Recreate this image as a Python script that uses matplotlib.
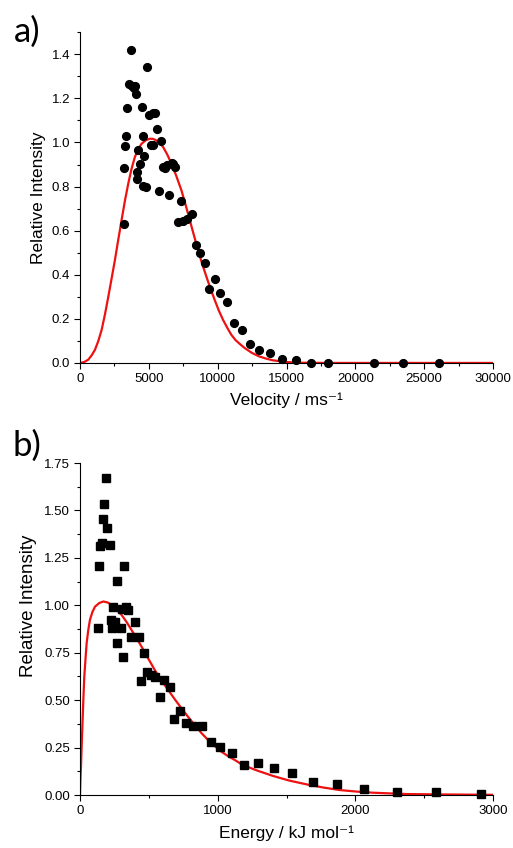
import matplotlib
matplotlib.use('Agg')
import matplotlib.pyplot as plt
from matplotlib.ticker import MultipleLocator

plt.rcParams['font.family'] = ['Liberation Sans', 'DejaVu Sans']

# a) velocity distribution, measured points
vel = [3194, 3194, 3267, 3340, 3436, 3582, 3727, 3800, 3920, 3993, 4041, 4114,
       4162, 4235, 4356, 4477, 4550, 4598, 4671, 4792, 4888, 4985, 5130, 5276,
       5324, 5445, 5566, 5711, 5881, 6002, 6195, 6292, 6486, 6655, 6776, 6897,
       7091, 7308, 7502, 7792, 8107, 8397, 8712, 9051, 9390, 9801, 10164, 10696,
       11205, 11737, 12342, 13031, 13807, 14703, 15672, 16786, 18044, 21365,
       23497, 26110]
vel_int = [0.63, 0.883, 0.983, 1.03, 1.158, 1.263, 1.42, 1.258, 1.245, 1.257, 1.218, 0.864,
           0.834, 0.965, 0.902, 1.16, 0.804, 1.03, 0.94, 0.796, 1.341, 1.123, 0.989, 0.988,
           1.135, 1.135, 1.063, 0.781, 1.007, 0.887, 0.882, 0.899, 0.762, 0.909, 0.902, 0.887,
           0.638, 0.736, 0.646, 0.653, 0.676, 0.536, 0.498, 0.453, 0.337, 0.382, 0.318, 0.277,
           0.179, 0.149, 0.088, 0.059, 0.047, 0.018, 0.014, 0.0, 0.0, 0.0,
           0.0, 0.0]

# a) fitted curve
vel_fit = [0, 300, 604, 850, 1087, 1330, 1570, 1810, 2053, 2300, 2536, 2780, 3019, 3260,
           3502, 3740, 3985, 4230, 4468, 4770, 5072, 5310, 5555, 5800, 6038, 6340, 6641,
           7000, 7366, 7670, 7970, 8270, 8573, 8870, 9177, 9480, 9781, 10080, 10385,
           10690, 10988, 11290, 11592, 11954, 12500, 13000, 13500, 14000, 15000, 16000,
           18000, 30000]
vel_fit_int = [0, 0.004, 0.015, 0.035, 0.06, 0.10, 0.15, 0.22, 0.30, 0.385, 0.467, 0.56, 0.648,
               0.735, 0.813, 0.88, 0.934, 0.97, 0.994, 1.01, 1.017, 1.016, 1.009, 0.997, 0.979,
               0.945, 0.904, 0.847, 0.783, 0.717, 0.648, 0.58, 0.512, 0.45, 0.392, 0.337, 0.286,
               0.238, 0.196, 0.16, 0.128, 0.104, 0.087, 0.068, 0.045, 0.03, 0.02, 0.012, 0.004,
               0.001, 0, 0]

# b) energy distribution, measured points
eng = [133, 138, 146, 158, 165, 175, 187, 199, 218, 228, 235, 243, 255, 267, 272, 299,
       303, 311, 323, 335, 352, 371, 400, 425, 444, 466, 485, 515, 546, 578, 607, 650,
       684, 728, 772, 820, 886, 951, 1019, 1104, 1194, 1295, 1409, 1542, 1690, 1864,
       2065, 2305, 2583, 2912]
eng_int = [0.878, 1.206, 1.311, 1.329, 1.453, 1.536, 1.671, 1.409, 1.318, 0.925, 0.878, 0.992,
           0.913, 0.799, 1.128, 0.881, 0.983, 0.728, 1.206, 0.992, 0.974, 0.834, 0.913, 0.834,
           0.602, 0.751, 0.649, 0.632, 0.623, 0.514, 0.605, 0.570, 0.398, 0.444, 0.381, 0.363,
           0.363, 0.281, 0.254, 0.223, 0.16, 0.170, 0.141, 0.114, 0.070, 0.058, 0.032, 0.018,
           0.014, 0.005]

# b) fitted curve
eng_fit = [0, 3, 7, 12, 17, 24, 31, 40, 48, 60, 72, 90, 109, 140, 169, 200, 229, 265, 302,
           338, 374, 410, 447, 495, 543, 590, 640, 690, 737, 785, 833, 880, 930, 980, 1026,
           1075, 1123, 1183, 1290, 1404, 1520, 1646, 1770, 1888, 2010, 2130, 2372, 2614, 3000]
eng_fit_int = [0, 0.08, 0.15, 0.26, 0.36, 0.50, 0.624, 0.72, 0.80, 0.87, 0.923, 0.965, 0.993,
               1.012, 1.02, 1.015, 1.002, 0.978, 0.949, 0.912, 0.870, 0.827, 0.782, 0.72, 0.659,
               0.605, 0.554, 0.503, 0.457, 0.412, 0.369, 0.328, 0.290, 0.257, 0.229, 0.205,
               0.185, 0.158, 0.128, 0.10, 0.076, 0.056, 0.039, 0.026, 0.018, 0.012, 0.005,
               0.003, 0.001]

fig = plt.figure(figsize=(5.13, 8.48), dpi=100)
ax1 = fig.add_axes([0.156, 0.572, 0.805, 0.390])
ax2 = fig.add_axes([0.156, 0.0625, 0.805, 0.3915])

for ax in (ax1, ax2):
    ax.spines['top'].set_visible(False)
    ax.spines['right'].set_visible(False)
    ax.tick_params(which='major', direction='out', length=4.5, width=0.8, labelsize=9.5, pad=2.5)
    ax.tick_params(which='minor', direction='out', length=2.5, width=0.8)

ax1.plot(vel_fit, vel_fit_int, color='#ee1111', linewidth=1.6, zorder=2)
ax1.plot(vel, vel_int, 'o', color='black', ms=5.6, zorder=3, clip_on=False)
ax1.set_xlim(0, 30000)
ax1.set_ylim(0, 1.5)
ax1.xaxis.set_major_locator(MultipleLocator(5000))
ax1.xaxis.set_minor_locator(MultipleLocator(2500))
ax1.yaxis.set_minor_locator(MultipleLocator(0.1))
ax1.set_yticks([0, 0.2, 0.4, 0.6, 0.8, 1.0, 1.2, 1.4])
ax1.set_ylabel('Relative Intensity', fontsize=12.5, labelpad=4)
ax1.set_xlabel('Velocity / ms\u207b\u00b9', fontsize=12.5, labelpad=6)

ax2.plot(eng_fit, eng_fit_int, color='#ee1111', linewidth=1.6, zorder=2)
ax2.plot(eng, eng_int, 's', color='black', ms=5.2, zorder=3, clip_on=False)
ax2.set_xlim(0, 3000)
ax2.set_ylim(0, 1.75)
ax2.xaxis.set_major_locator(MultipleLocator(1000))
ax2.xaxis.set_minor_locator(MultipleLocator(500))
ax2.yaxis.set_major_locator(MultipleLocator(0.25))
ax2.yaxis.set_minor_locator(MultipleLocator(0.125))
ax2.yaxis.set_major_formatter(lambda v, p: f'{v:.2f}')
ax2.set_ylabel('Relative Intensity', fontsize=13.5)
ax2.yaxis.set_label_coords(-0.104, 0.57)
ax2.set_xlabel('Energy / kJ mol\u207b\u00b9', fontsize=12.5, labelpad=6)

fig.text(0.027, 0.951, 'a)', fontsize=25, family=['Lato', 'DejaVu Sans'])
fig.text(0.024, 0.462, 'b)', fontsize=25, family=['Lato', 'DejaVu Sans'])

plt.savefig('out.png', dpi=100)
